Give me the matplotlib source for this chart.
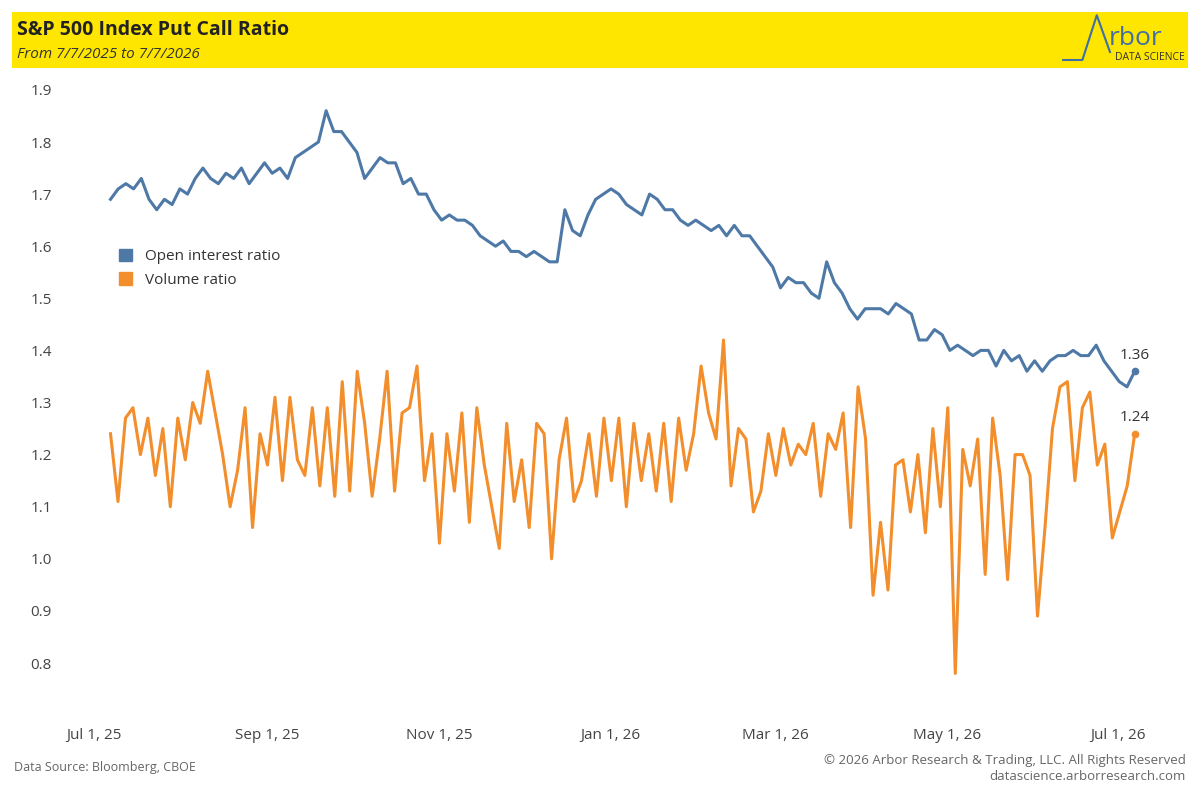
import numpy as np
import pandas as pd
import matplotlib.pyplot as plt
import matplotlib.dates as mdates
from matplotlib.patches import Rectangle

open_interest = [
    1.69, 1.71, 1.72, 1.71, 1.73, 1.69, 1.67, 1.69, 1.68,
    1.71, 1.70, 1.73, 1.75, 1.73, 1.72, 1.74, 1.73, 1.75, 1.72, 1.74,
    1.76, 1.74, 1.75, 1.73, 1.77, 1.78, 1.79, 1.80, 1.86, 1.82, 1.82,
    1.80, 1.78, 1.73, 1.75, 1.77, 1.76, 1.76, 1.72, 1.73, 1.70, 1.70,
    1.67, 1.65, 1.66, 1.65, 1.65, 1.64, 1.62, 1.61, 1.60, 1.61, 1.59,
    1.59, 1.58, 1.59, 1.58, 1.57, 1.57, 1.67, 1.63, 1.62, 1.66, 1.69, 1.70,
    1.71, 1.70, 1.68, 1.67, 1.66, 1.70, 1.69, 1.67, 1.67, 1.65, 1.64,
    1.65, 1.64, 1.63, 1.64, 1.62, 1.64, 1.62, 1.62, 1.60, 1.58,
    1.56, 1.52, 1.54, 1.53, 1.53, 1.51, 1.50, 1.57, 1.53, 1.51, 1.48,
    1.46, 1.48, 1.48, 1.48, 1.47, 1.49, 1.48, 1.47, 1.42, 1.42, 1.44,
    1.43, 1.40, 1.41, 1.40, 1.39, 1.40, 1.40, 1.37, 1.40, 1.38, 1.39,
    1.36, 1.38, 1.36, 1.38, 1.39, 1.39, 1.40, 1.39, 1.39, 1.41, 1.38,
    1.36, 1.34, 1.33, 1.36,
]
volume = [
    1.24, 1.11, 1.27, 1.29, 1.20, 1.27, 1.16, 1.25, 1.10,
    1.27, 1.19, 1.30, 1.26, 1.36, 1.28, 1.20, 1.10, 1.17, 1.29, 1.06,
    1.24, 1.18, 1.31, 1.15, 1.31, 1.19, 1.16, 1.29, 1.14, 1.29, 1.12,
    1.34, 1.13, 1.36, 1.26, 1.12, 1.23, 1.36, 1.13, 1.28, 1.29, 1.37,
    1.15, 1.24, 1.03, 1.24, 1.13, 1.28, 1.07, 1.29, 1.18, 1.10, 1.02,
    1.26, 1.11, 1.19, 1.06, 1.26, 1.24, 1.00, 1.19, 1.27, 1.11, 1.15,
    1.24, 1.12, 1.27, 1.15, 1.27, 1.10, 1.26, 1.15, 1.24, 1.13, 1.26,
    1.11, 1.27, 1.17, 1.24, 1.37, 1.28, 1.23, 1.42, 1.14, 1.25, 1.23,
    1.09, 1.13, 1.24, 1.16, 1.25, 1.18, 1.22, 1.20, 1.26, 1.12, 1.24,
    1.21, 1.28, 1.06, 1.33, 1.23, 0.93, 1.07, 0.94, 1.18, 1.19, 1.09,
    1.20, 1.05, 1.25, 1.10, 1.29, 0.78, 1.21, 1.14, 1.23, 0.97, 1.27,
    1.16, 0.96, 1.20, 1.20, 1.16, 0.89, 1.06, 1.25, 1.33, 1.34, 1.15,
    1.29, 1.32, 1.18, 1.22, 1.04, 1.09, 1.14, 1.24,
]
start_date, end_date = '2025-07-07', '2026-07-07'
oi_dates = pd.date_range(start_date, end_date, periods=len(open_interest))
vol_dates = pd.date_range(start_date, end_date, periods=len(volume))
y_ticks = [0.8, 0.9, 1.0, 1.1, 1.2, 1.3, 1.4, 1.5, 1.6, 1.7, 1.8, 1.9]
x_ticks = ['2025-07-01', '2025-09-01', '2025-11-01', '2026-01-01', '2026-03-01', '2026-05-01', '2026-07-01']

blue = '#4e79a7'
orange = '#f28e2b'
plt.rcParams['font.family'] = ['Open Sans', 'DejaVu Sans']

fig = plt.figure(figsize=(12, 8), dpi=100)
fig.patches.append(Rectangle((0.01, 0.915), 0.98, 0.07, transform=fig.transFigure,
                             facecolor='#ffe600', edgecolor='none', zorder=0))
fig.text(0.014, 0.962, 'S&P 500 Index Put Call Ratio', fontsize=14, fontweight='bold', va='center', color='#222222')
fig.text(0.014, 0.932, 'From 7/7/2025 to 7/7/2026', fontsize=11, style='italic', va='center', color='#333333')
# logo
fig.lines.append(plt.Line2D([0.886, 0.902, 0.914, 0.925], [0.925, 0.925, 0.981, 0.935],
                            transform=fig.transFigure, color='#3f6fa3', lw=1.5))
fig.text(0.924, 0.952, 'rbor', fontsize=19, color='#3f6fa3', va='center')
fig.text(0.987, 0.928, 'DATA SCIENCE', fontsize=7.5, color='#333333', ha='right', va='center')

ax = fig.add_axes([0.05, 0.125, 0.933, 0.775])
ax.plot(oi_dates, open_interest, color=blue, lw=2.2)
ax.plot(vol_dates, volume, color=orange, lw=2.2)
ax.plot(oi_dates[-1], open_interest[-1], 'o', color=blue, ms=4.5)
ax.plot(vol_dates[-1], volume[-1], 'o', color=orange, ms=4.5)
ax.annotate(f'{open_interest[-1]:.2f}', (oi_dates[-1], open_interest[-1]), xytext=(0, 9),
            textcoords='offset points', ha='center', fontsize=11, color='#333333')
ax.annotate(f'{volume[-1]:.2f}', (vol_dates[-1], volume[-1]), xytext=(0, 9),
            textcoords='offset points', ha='center', fontsize=11, color='#333333')

x0 = pd.Timestamp('2025-07-01')
ax.set_xlim(x0 - pd.Timedelta(days=12), x0 + pd.Timedelta(days=387))
ax.set_ylim(0.729, 1.919)
ax.set_yticks(y_ticks)
ax.set_yticklabels([f'{t:.1f}' for t in y_ticks])
ax.set_xticks(pd.to_datetime(x_ticks))
ax.xaxis.set_major_formatter(mdates.DateFormatter('%b %-d, %y'))
ax.tick_params(length=0, labelsize=11, labelcolor='#444444')
ax.tick_params(axis='y', pad=6)
ax.tick_params(axis='x', pad=20)
for s in ax.spines.values():
    s.set_visible(False)

ax.legend(handles=[Rectangle((0, 0), 1, 1, color=blue), Rectangle((0, 0), 1, 1, color=orange)],
          labels=['Open interest ratio', 'Volume ratio'], loc='upper left',
          bbox_to_anchor=(0.04, 0.75), frameon=False, fontsize=11, handlelength=0.9,
          handleheight=0.9, labelcolor='#333333')

fig.text(0.012, 0.04, 'Data Source: Bloomberg, CBOE', fontsize=9, color='#666666', va='center')
fig.text(0.988, 0.049, '© 2026 Arbor Research & Trading, LLC. All Rights Reserved', fontsize=9.5,
         color='#666666', ha='right', va='center')
fig.text(0.988, 0.029, 'datascience.arborresearch.com', fontsize=9.5, color='#666666', ha='right', va='center')

fig.savefig('out.png', dpi=100, facecolor='white')
